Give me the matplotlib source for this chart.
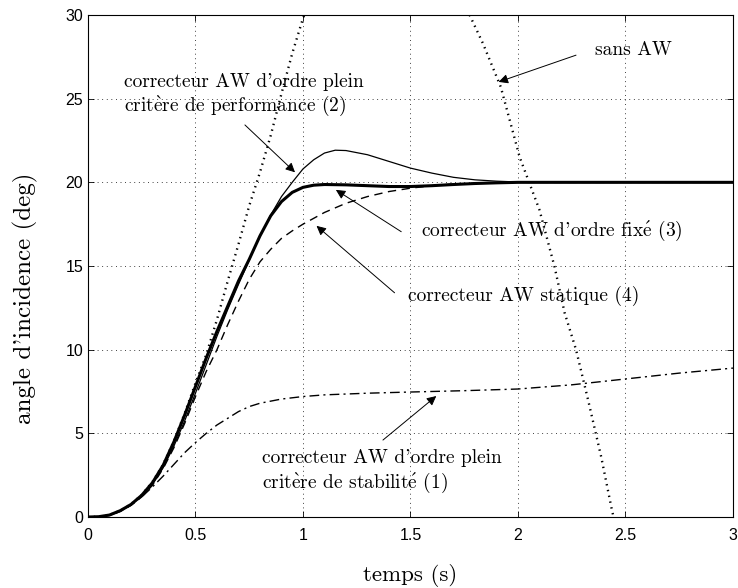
import matplotlib
matplotlib.use("Agg")
import matplotlib.pyplot as plt

plt.rcParams['mathtext.fontset'] = 'cm'
plt.rcParams['axes.unicode_minus'] = False

# temps (s) / angle d'incidence (deg)
t_sans = [0, 0.05, 0.1, 0.15, 0.2, 0.25, 0.3, 0.35, 0.4, 0.45, 0.5, 0.55,
          0.6, 0.65, 0.7, 0.75, 0.8, 0.85, 0.9, 0.95, 1.0, 1.1, 1.2, 1.3,
          1.4, 1.5, 1.6, 1.7, 1.775, 1.837, 1.92, 2.008, 2.1, 2.17, 2.217,
          2.27, 2.326, 2.387, 2.434, 2.47, 2.55]
y_sans = [0, 0.02, 0.12, 0.38, 0.77, 1.32, 2.1, 3.15, 4.55, 6.2, 8.0, 9.7,
          11.8, 14.1, 16.3, 18.6, 20.6, 22.8, 25.3, 27.7, 29.8, 33.0, 35.0,
          36.2, 36.5, 35.8, 34.2, 32.0, 30.0, 28.3, 25.7, 21.5, 18.35, 14.96,
          12.2, 10.0, 7.0, 3.6, 0.6, -1.5, -6.0]

t_plein_stab = [0, 0.05, 0.1, 0.15, 0.2, 0.25, 0.3, 0.35, 0.4, 0.45, 0.5,
                0.55, 0.6, 0.65, 0.7, 0.75, 0.8, 0.9, 1.0, 1.1, 1.2, 1.3, 1.5,
                1.75, 2.0, 2.25, 2.5, 2.75, 3.0]
y_plein_stab = [0, 0.02, 0.1, 0.35, 0.72, 1.2, 1.8, 2.45, 3.15, 3.85, 4.45,
                5.0, 5.5, 5.9, 6.3, 6.6, 6.8, 7.05, 7.2, 7.3, 7.35, 7.4, 7.47,
                7.55, 7.65, 7.9, 8.25, 8.6, 8.9]

t_plein_perf = [0, 0.05, 0.1, 0.15, 0.2, 0.25, 0.3, 0.35, 0.4, 0.45, 0.5,
                0.55, 0.6, 0.65, 0.7, 0.75, 0.8, 0.85, 0.9, 0.95, 1.0, 1.05,
                1.1, 1.15, 1.2, 1.3, 1.4, 1.5, 1.6, 1.7, 1.8, 1.9, 2.0, 2.2, 3.0]
y_plein_perf = [0, 0.02, 0.11, 0.35, 0.72, 1.25, 1.95, 2.95, 4.25, 5.75, 7.4,
                9.1, 10.8, 12.4, 13.9, 15.35, 16.8, 18.05, 19.15, 20.0, 20.8,
                21.35, 21.75, 21.92, 21.9, 21.65, 21.25, 20.85, 20.55, 20.3,
                20.15, 20.07, 20.02, 20.0, 20.0]

t_fixe = [0, 0.05, 0.1, 0.15, 0.2, 0.25, 0.3, 0.35, 0.4, 0.45, 0.5, 0.55,
          0.6, 0.65, 0.7, 0.75, 0.8, 0.85, 0.9, 0.95, 1.0, 1.05, 1.1, 1.2,
          1.3, 1.4, 1.5, 1.6, 1.7, 1.8, 1.9, 2.0, 2.5, 3.0]
y_fixe = [0, 0.02, 0.12, 0.38, 0.75, 1.3, 2.05, 3.1, 4.5, 6.1, 7.8, 9.5,
          11.1, 12.6, 14.1, 15.4, 16.8, 18.0, 18.85, 19.4, 19.7, 19.83, 19.87,
          19.85, 19.8, 19.75, 19.75, 19.8, 19.87, 19.93, 19.97, 20.0, 20.0,
          20.0]

t_stat = [0, 0.05, 0.1, 0.15, 0.2, 0.25, 0.3, 0.35, 0.4, 0.45, 0.5, 0.55,
          0.6, 0.65, 0.7, 0.75, 0.8, 0.85, 0.9, 0.95, 1.0, 1.1, 1.2, 1.3,
          1.4, 1.5, 1.6, 1.7, 1.8, 2.0, 3.0]
y_stat = [0, 0.02, 0.1, 0.33, 0.7, 1.2, 1.9, 2.9, 4.15, 5.6, 7.2, 8.7,
          10.0, 11.5, 12.9, 14.2, 15.25, 16.0, 16.65, 17.1, 17.5, 18.2, 18.75,
          19.15, 19.45, 19.65, 19.8, 19.9, 19.95, 20.0, 20.0]

x_ticks = [0, 0.5, 1, 1.5, 2, 2.5, 3]
x_ticklabels = ['0', '0.5', '1', '1.5', '2', '2.5', '3']
y_ticks = [0, 5, 10, 15, 20, 25, 30]

serif = ['cmr10', 'DejaVu Serif']
ann_size = 14

fig = plt.figure(figsize=(7.38, 5.88), dpi=100)
ax = fig.add_axes([0.1192, 0.1207, 0.874, 0.8538])

ax.plot(t_sans, y_sans, color='k', lw=1.7, dashes=(0.6, 1.9))
ax.plot(t_plein_stab, y_plein_stab, color='k', lw=1.0, dashes=(7, 3, 1.5, 3))
ax.plot(t_plein_perf, y_plein_perf, color='k', lw=0.9)
ax.plot(t_fixe, y_fixe, color='k', lw=2.2)
ax.plot(t_stat, y_stat, color='k', lw=1.0, dashes=(6, 4))

ax.set_xlim(0, 3)
ax.set_ylim(0, 30)
ax.set_xticks(x_ticks)
ax.set_xticklabels(x_ticklabels)
ax.set_yticks(y_ticks)
ax.grid(True, color='k', lw=0.6, linestyle=(0, (1, 4.5)))
ax.tick_params(direction='in', top=True, right=True, length=4, width=0.6,
               labelsize=11.5)
ax.tick_params(axis='x', pad=8)
ax.tick_params(axis='y', pad=3.5)
for lab in ax.get_xticklabels() + ax.get_yticklabels():
    lab.set_family('Liberation Sans')
for sp in ax.spines.values():
    sp.set_linewidth(0.8)

ax.set_xlabel('temps (s)', family=serif, fontsize=16.5)
ax.xaxis.set_label_coords(0.5, -0.094)
ax.set_ylabel("angle d'incidence (deg)", family=serif, fontsize=18)
ax.yaxis.set_label_coords(-0.078, 0.435)

arrow = dict(arrowstyle='-|>', color='k', lw=0.7, mutation_scale=14,
             shrinkA=0, shrinkB=0)

ax.text(0.167, 25.2, "correcteur AW d'ordre plein\n"
        r"crit$\grave{\mathrm{e}}$re de performance (2)",
        family=serif, fontsize=ann_size, va='center', ha='left',
        linespacing=1.2)
ax.annotate('', xy=(0.963, 20.6), xytext=(0.73, 23.43), arrowprops=arrow)

ax.text(2.357, 27.9, 'sans AW', family=serif, fontsize=ann_size,
        va='center', ha='left')
ax.annotate('', xy=(1.91, 26.0), xytext=(2.27, 27.6), arrowprops=arrow)

ax.text(1.549, 17.07, r"correcteur AW d'ordre fix$\acute{\mathrm{e}}$ (3)",
        family=serif, fontsize=ann_size, va='center', ha='left')
ax.annotate('', xy=(1.153, 19.55), xytext=(1.457, 17.05), arrowprops=arrow)

ax.text(1.49, 13.2, 'correcteur AW statique (4)', family=serif,
        fontsize=ann_size, va='center', ha='left')
ax.annotate('', xy=(1.063, 17.4), xytext=(1.426, 13.4), arrowprops=arrow)

ax.text(0.808, 2.69, "correcteur AW d'ordre plein\n"
        r"crit$\grave{\mathrm{e}}$re de stabilit$\acute{\mathrm{e}}$ (1)",
        family=serif, fontsize=ann_size, va='center', ha='left',
        linespacing=1.2)
ax.annotate('', xy=(1.62, 7.23), xytext=(1.372, 4.6), arrowprops=arrow)

fig.savefig('out.png', dpi=100)
